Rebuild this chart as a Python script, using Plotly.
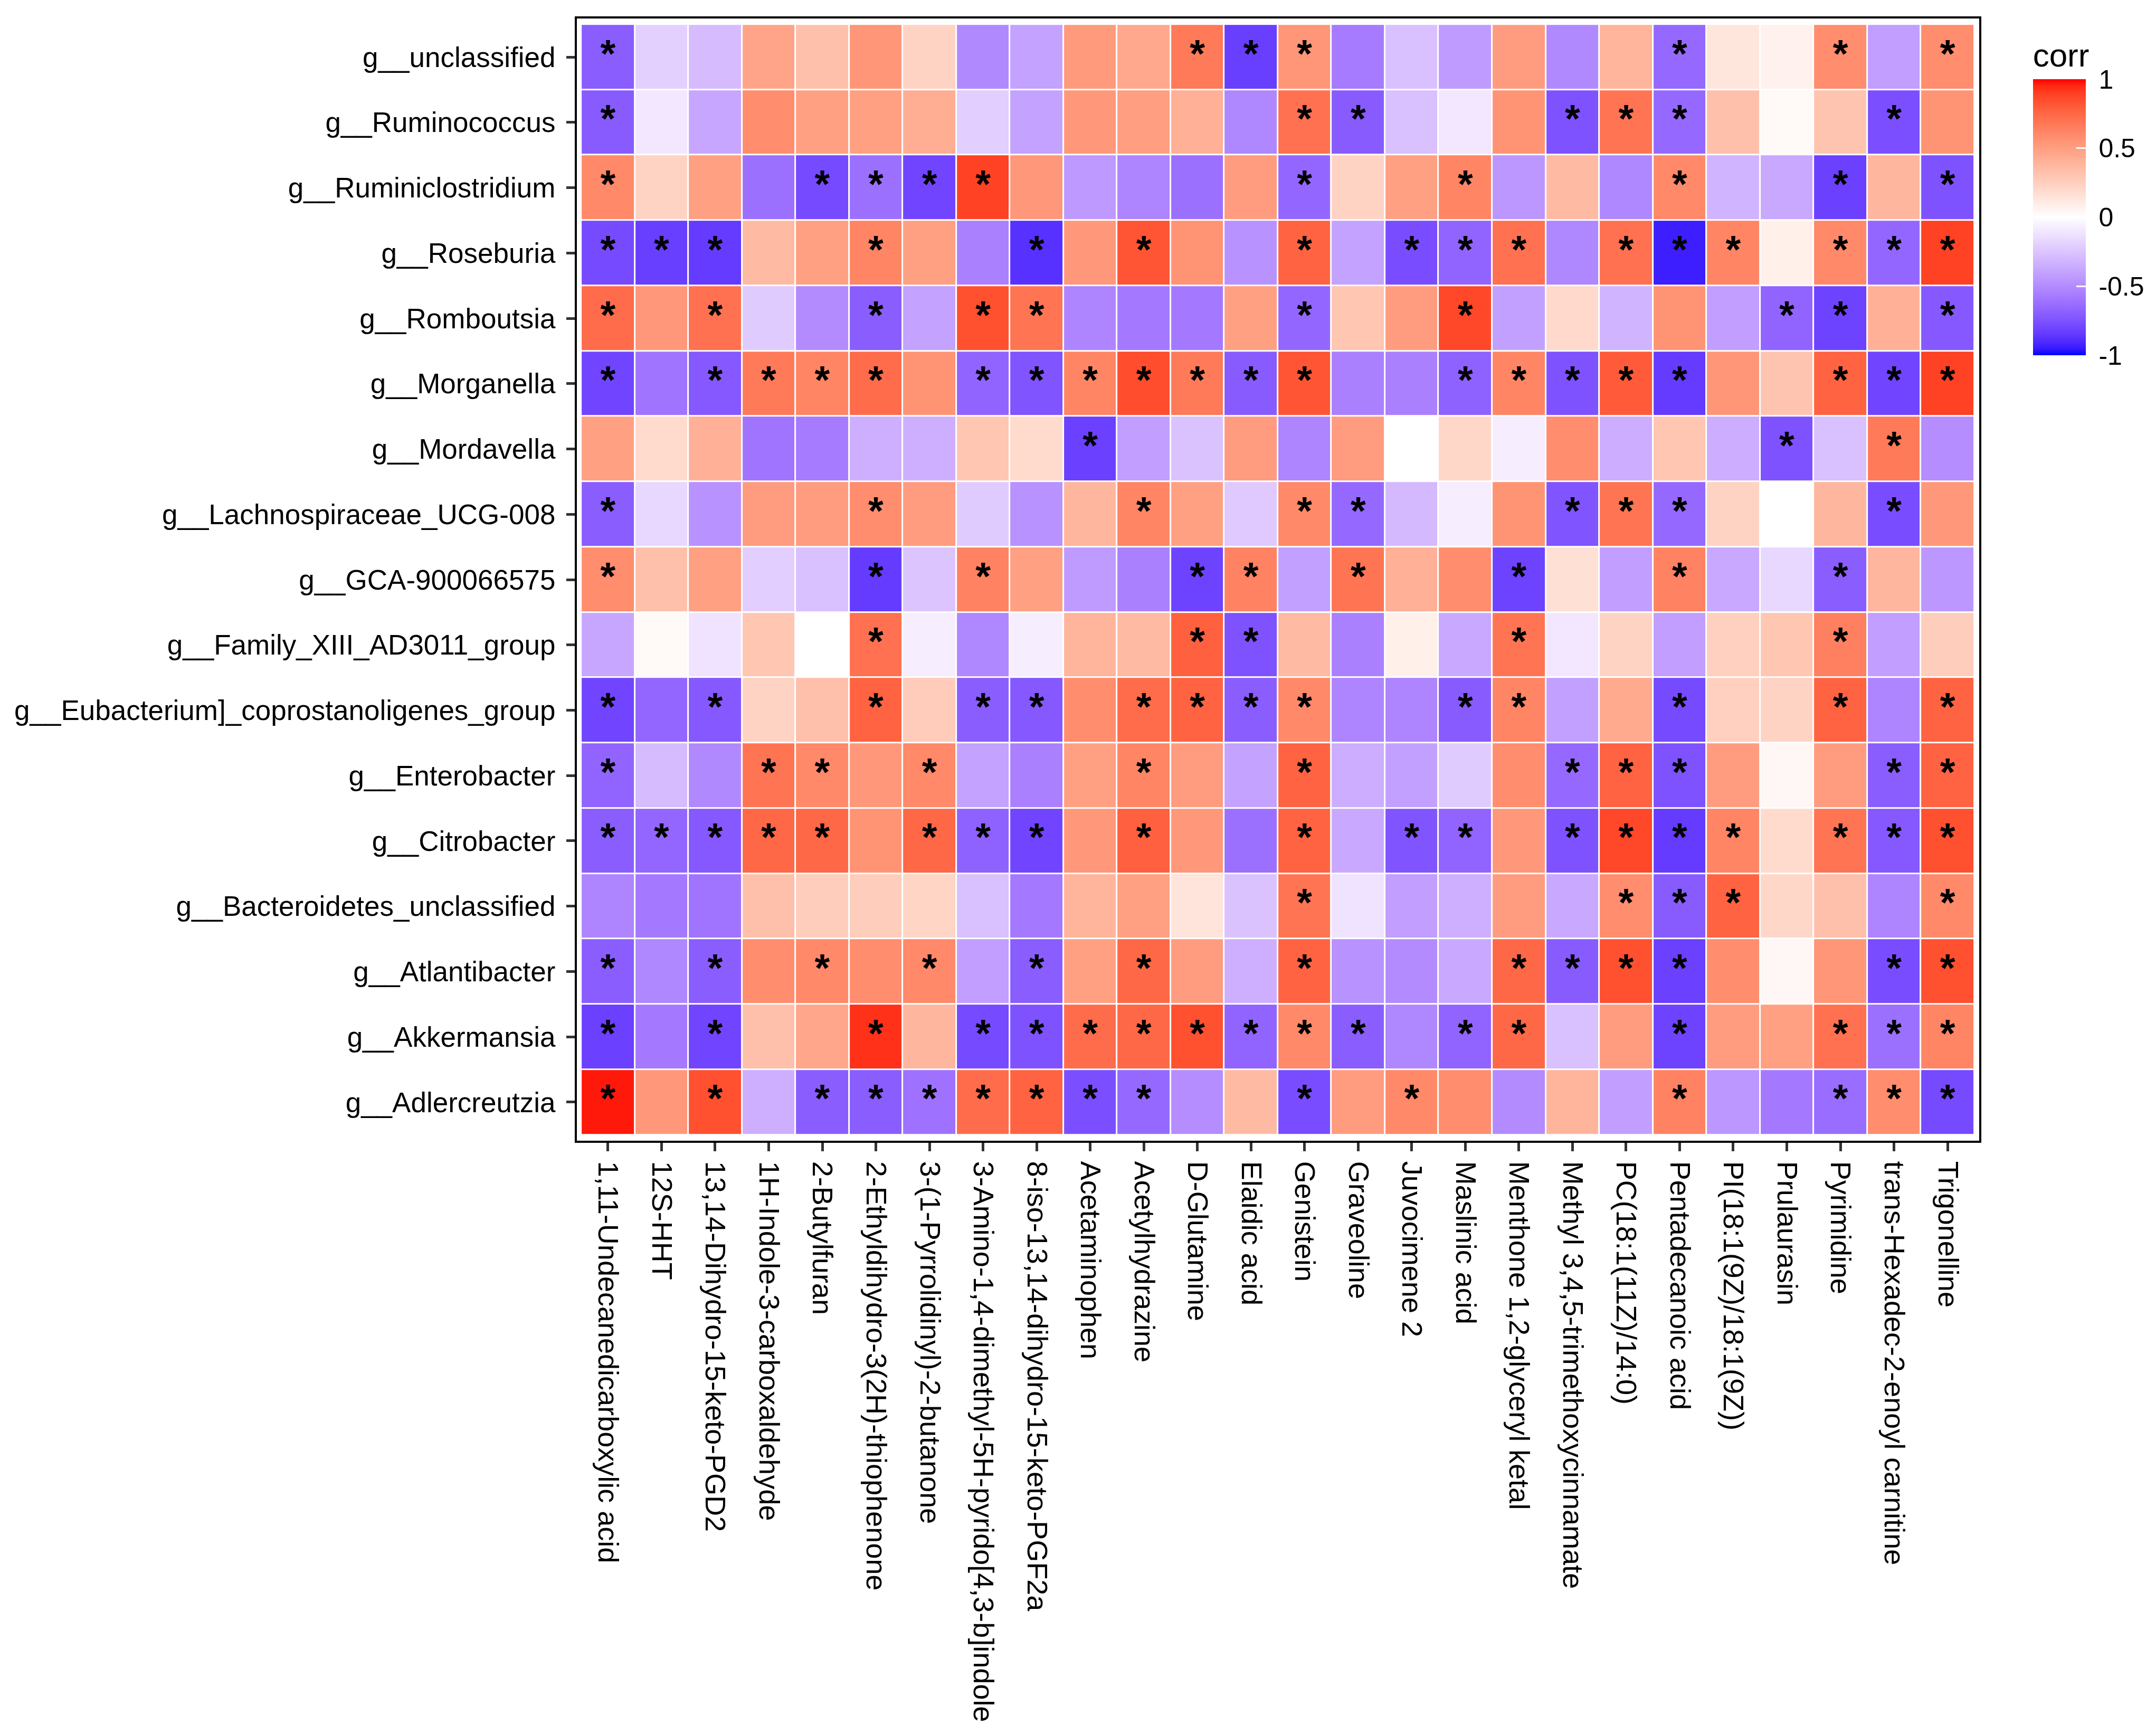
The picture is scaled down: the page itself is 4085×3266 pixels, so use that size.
import plotly.graph_objects as go

# ---------------- data ----------------
metabolites = [
    "1,11-Undecanedicarboxylic acid", "12S-HHT", "13,14-Dihydro-15-keto-PGD2",
    "1H-Indole-3-carboxaldehyde", "2-Butylfuran", "2-Ethyldihydro-3(2H)-thiophenone",
    "3-(1-Pyrrolidinyl)-2-butanone", "3-Amino-1,4-dimethyl-5H-pyrido[4,3-b]indole",
    "8-iso-13,14-dihydro-15-keto-PGF2a", "Acetaminophen", "Acetylhydrazine",
    "D-Glutamine", "Elaidic acid", "Genistein", "Graveoline", "Juvocimene 2",
    "Maslinic acid", "Menthone 1,2-glyceryl ketal", "Methyl 3,4,5-trimethoxycinnamate",
    "PC(18:1(11Z)/14:0)", "Pentadecanoic acid", "PI(18:1(9Z)/18:1(9Z))", "Prulaurasin",
    "Pyrimidine", "trans-Hexadec-2-enoyl carnitine", "Trigonelline",
]

genera = [
    "g__unclassified", "g__Ruminococcus", "g__Ruminiclostridium", "g__Roseburia",
    "g__Romboutsia", "g__Morganella", "g__Mordavella", "g__Lachnospiraceae_UCG-008",
    "g__GCA-900066575", "g__Family_XIII_AD3011_group",
    "g__Eubacterium]_coprostanoligenes_group", "g__Enterobacter", "g__Citrobacter",
    "g__Bacteroidetes_unclassified", "g__Atlantibacter", "g__Akkermansia",
    "g__Adlercreutzia",
]

corr_unclassified = [-0.7, -0.2, -0.29, 0.47, 0.33, 0.54, 0.23, -0.51, -0.4, 0.52, 0.45, 0.67, -0.83, 0.54, -0.57, -0.27, -0.43, 0.51, -0.51, 0.39, -0.65, 0.13, 0.07, 0.58, -0.42, 0.58]
corr_ruminococcus = [-0.71, -0.1, -0.38, 0.58, 0.49, 0.49, 0.42, -0.21, -0.4, 0.53, 0.5, 0.41, -0.52, 0.71, -0.71, -0.27, -0.1, 0.55, -0.75, 0.69, -0.65, 0.33, 0.03, 0.31, -0.76, 0.55]
corr_ruminiclostridium = [0.6, 0.23, 0.49, -0.62, -0.78, -0.62, -0.8, 0.89, 0.53, -0.44, -0.53, -0.62, 0.51, -0.66, 0.23, 0.49, 0.62, -0.45, 0.36, -0.52, 0.6, -0.32, -0.37, -0.82, 0.38, -0.75]
corr_roseburia = [-0.78, -0.83, -0.84, 0.36, 0.49, 0.62, 0.49, -0.55, -0.88, 0.53, 0.82, 0.55, -0.47, 0.77, -0.4, -0.77, -0.67, 0.71, -0.52, 0.71, -0.94, 0.62, 0.08, 0.6, -0.66, 0.89]
corr_romboutsia = [0.73, 0.53, 0.71, -0.22, -0.5, -0.7, -0.4, 0.84, 0.69, -0.53, -0.58, -0.58, 0.49, -0.66, 0.3, 0.51, 0.87, -0.41, 0.2, -0.32, 0.55, -0.42, -0.67, -0.81, 0.41, -0.72]
corr_morganella = [-0.8, -0.6, -0.72, 0.67, 0.62, 0.73, 0.55, -0.67, -0.74, 0.62, 0.85, 0.67, -0.71, 0.82, -0.55, -0.55, -0.68, 0.62, -0.75, 0.8, -0.84, 0.54, 0.31, 0.77, -0.8, 0.89]
corr_mordavella = [0.49, 0.19, 0.41, -0.6, -0.57, -0.34, -0.34, 0.3, 0.19, -0.82, -0.42, -0.26, 0.51, -0.53, 0.51, 0.0, 0.21, -0.07, 0.58, -0.35, 0.3, -0.35, -0.75, -0.27, 0.67, -0.49]
corr_lachnospiraceae = [-0.7, -0.17, -0.47, 0.51, 0.51, 0.58, 0.51, -0.22, -0.47, 0.38, 0.62, 0.49, -0.23, 0.6, -0.65, -0.3, -0.07, 0.55, -0.74, 0.69, -0.65, 0.23, 0.0, 0.38, -0.77, 0.53]
corr_gca = [0.58, 0.33, 0.49, -0.21, -0.27, -0.84, -0.25, 0.63, 0.49, -0.43, -0.55, -0.81, 0.63, -0.41, 0.69, 0.41, 0.58, -0.81, 0.16, -0.42, 0.63, -0.37, -0.17, -0.7, 0.38, -0.45]
corr_family_xiii = [-0.38, 0.03, -0.12, 0.3, 0.0, 0.71, -0.07, -0.52, -0.07, 0.39, 0.36, 0.78, -0.75, 0.36, -0.55, 0.08, -0.37, 0.69, -0.1, 0.23, -0.42, 0.25, 0.3, 0.64, -0.42, 0.26]
corr_eubacterium = [-0.8, -0.66, -0.72, 0.23, 0.33, 0.77, 0.27, -0.7, -0.72, 0.58, 0.73, 0.77, -0.7, 0.6, -0.53, -0.53, -0.71, 0.62, -0.41, 0.44, -0.78, 0.25, 0.23, 0.77, -0.53, 0.77]
corr_enterobacter = [-0.67, -0.29, -0.51, 0.69, 0.6, 0.53, 0.6, -0.4, -0.55, 0.49, 0.62, 0.51, -0.4, 0.77, -0.35, -0.41, -0.22, 0.58, -0.65, 0.77, -0.75, 0.51, 0.04, 0.51, -0.7, 0.77]
corr_citrobacter = [-0.7, -0.66, -0.72, 0.75, 0.75, 0.55, 0.75, -0.68, -0.8, 0.53, 0.78, 0.53, -0.62, 0.77, -0.37, -0.74, -0.67, 0.53, -0.75, 0.87, -0.84, 0.62, 0.19, 0.69, -0.72, 0.84]
corr_bacteroidetes = [-0.53, -0.58, -0.6, 0.33, 0.26, 0.26, 0.22, -0.27, -0.58, 0.39, 0.49, 0.14, -0.26, 0.69, -0.12, -0.42, -0.34, 0.51, -0.37, 0.58, -0.71, 0.77, 0.21, 0.33, -0.53, 0.6]
corr_atlantibacter = [-0.7, -0.52, -0.7, 0.58, 0.6, 0.58, 0.6, -0.42, -0.7, 0.49, 0.75, 0.51, -0.34, 0.77, -0.47, -0.5, -0.37, 0.75, -0.71, 0.84, -0.82, 0.58, 0.04, 0.54, -0.77, 0.84]
corr_akkermansia = [-0.82, -0.58, -0.8, 0.33, 0.46, 0.93, 0.38, -0.78, -0.75, 0.73, 0.75, 0.84, -0.67, 0.6, -0.7, -0.52, -0.67, 0.75, -0.27, 0.51, -0.81, 0.51, 0.49, 0.71, -0.62, 0.62]
corr_adlercreutzia = [0.97, 0.53, 0.84, -0.34, -0.7, -0.7, -0.61, 0.73, 0.77, -0.76, -0.65, -0.49, 0.36, -0.77, 0.51, 0.6, 0.58, -0.5, 0.39, -0.42, 0.63, -0.45, -0.58, -0.63, 0.58, -0.78]

# significant cells (column indices) per genus
sig_unclassified = [0, 11, 12, 13, 20, 23, 25]
sig_ruminococcus = [0, 13, 14, 18, 19, 20, 24]
sig_ruminiclostridium = [0, 4, 5, 6, 7, 13, 16, 20, 23, 25]
sig_roseburia = [0, 1, 2, 5, 8, 10, 13, 15, 16, 17, 19, 20, 21, 23, 24, 25]
sig_romboutsia = [0, 2, 5, 7, 8, 13, 16, 22, 23, 25]
sig_morganella = [0, 2, 3, 4, 5, 7, 8, 9, 10, 11, 12, 13, 16, 17, 18, 19, 20, 23, 24, 25]
sig_mordavella = [9, 22, 24]
sig_lachnospiraceae = [0, 5, 10, 13, 14, 18, 19, 20, 24]
sig_gca = [0, 5, 7, 11, 12, 14, 17, 20, 23]
sig_family_xiii = [5, 11, 12, 17, 23]
sig_eubacterium = [0, 2, 5, 7, 8, 10, 11, 12, 13, 16, 17, 20, 23, 25]
sig_enterobacter = [0, 3, 4, 6, 10, 13, 18, 19, 20, 24, 25]
sig_citrobacter = [0, 1, 2, 3, 4, 6, 7, 8, 10, 13, 15, 16, 18, 19, 20, 21, 23, 24, 25]
sig_bacteroidetes = [13, 19, 20, 21, 25]
sig_atlantibacter = [0, 2, 4, 6, 8, 10, 13, 17, 18, 19, 20, 24, 25]
sig_akkermansia = [0, 2, 5, 7, 8, 9, 10, 11, 12, 13, 14, 16, 17, 20, 23, 24, 25]
sig_adlercreutzia = [0, 2, 4, 5, 6, 7, 8, 9, 10, 13, 15, 20, 23, 24, 25]

legend_ticks = [-1, -0.5, 0, 0.5, 1]
legend_labels = ["-1", "-0.5", "0", "0.5", "1"]

corr_rows = [corr_unclassified, corr_ruminococcus, corr_ruminiclostridium, corr_roseburia,
             corr_romboutsia, corr_morganella, corr_mordavella, corr_lachnospiraceae,
             corr_gca, corr_family_xiii, corr_eubacterium, corr_enterobacter,
             corr_citrobacter, corr_bacteroidetes, corr_atlantibacter, corr_akkermansia,
             corr_adlercreutzia]
sig_rows = [sig_unclassified, sig_ruminococcus, sig_ruminiclostridium, sig_roseburia,
            sig_romboutsia, sig_morganella, sig_mordavella, sig_lachnospiraceae,
            sig_gca, sig_family_xiii, sig_eubacterium, sig_enterobacter,
            sig_citrobacter, sig_bacteroidetes, sig_atlantibacter, sig_akkermansia,
            sig_adlercreutzia]

# ---------------- colour scale (Lab interpolation blue-white-red) ----------------
def _srgb_to_lin(c):
    c = c / 255.0
    return c / 12.92 if c <= 0.04045 else ((c + 0.055) / 1.055) ** 2.4

def _lin_to_srgb(c):
    c = 12.92 * c if c <= 0.0031308 else 1.055 * c ** (1 / 2.4) - 0.055
    return max(0, min(255, round(c * 255)))

_WP = (0.95047, 1.0, 1.08883)

def rgb_to_lab(rgb):
    r, g, b = (_srgb_to_lin(v) for v in rgb)
    x = 0.4124 * r + 0.3576 * g + 0.1805 * b
    y = 0.2126 * r + 0.7152 * g + 0.0722 * b
    z = 0.0193 * r + 0.1192 * g + 0.9505 * b
    def f(t):
        return t ** (1 / 3) if t > 0.008856 else 7.787 * t + 16 / 116
    fx, fy, fz = f(x / _WP[0]), f(y / _WP[1]), f(z / _WP[2])
    return (116 * fy - 16, 500 * (fx - fy), 200 * (fy - fz))

def lab_to_rgb(lab):
    L, a, bb = lab
    fy = (L + 16) / 116
    fx = fy + a / 500
    fz = fy - bb / 200
    def finv(t):
        return t ** 3 if t ** 3 > 0.008856 else (t - 16 / 116) / 7.787
    x, y, z = finv(fx) * _WP[0], finv(fy) * _WP[1], finv(fz) * _WP[2]
    r = 3.2406 * x - 1.5372 * y - 0.4986 * z
    g = -0.9689 * x + 1.8758 * y + 0.0415 * z
    b = 0.0557 * x - 0.2040 * y + 1.0570 * z
    return tuple(_lin_to_srgb(max(0.0, v)) for v in (r, g, b))

lab_low = rgb_to_lab((0, 0, 255))
lab_mid = rgb_to_lab((255, 255, 255))
lab_high = rgb_to_lab((255, 0, 0))

colorscale = []
n_steps = 40
for i in range(n_steps + 1):
    v = -1 + 2 * i / n_steps
    if v < 0:
        t, end = -v, lab_low
    else:
        t, end = v, lab_high
    lab = tuple(m + (e - m) * t for m, e in zip(lab_mid, end))
    r, g, b = lab_to_rgb(lab)
    colorscale.append([i / n_steps, f"rgb({r},{g},{b})"])

# ---------------- figure ----------------
W, H = 4085, 3266
left, right, top, bottom = 1085, 334, 27, 1102
plot_w = W - left - right
plot_h = H - top - bottom

font_family = "Liberation Sans, Arial, sans-serif"

star_x, star_y = [], []
for gi, sig in enumerate(sig_rows):
    for ci in sig:
        star_x.append(metabolites[ci])
        star_y.append(genera[gi])

# colour bar: bar itself from y=150 to y=667 px, title above it
cb_title_space = 80
cb_top = 150 - cb_title_space
cb_len = 667 - cb_top
cb_center = cb_top + cb_len / 2

fig = go.Figure()
fig.add_trace(go.Heatmap(
    z=corr_rows, x=metabolites, y=genera,
    zmin=-1, zmax=1, colorscale=colorscale,
    xgap=3, ygap=3,
    colorbar=dict(
        title=dict(text="corr", side="top", font=dict(size=62, color="black", family=font_family)),
        x=1 + (3853 - (W - right)) / plot_w, xanchor="left", xref="paper",
        y=(H - bottom - cb_center) / plot_h, yanchor="middle", yref="paper",
        len=cb_len, lenmode="pixels", thickness=100, thicknessmode="pixels",
        outlinewidth=0, xpad=0, ypad=0,
        tickvals=legend_ticks, ticktext=["\u00a0" + s for s in legend_labels],
        ticks="inside", ticklen=18, tickwidth=3, tickcolor="white",
        tickfont=dict(size=50, color="black", family=font_family),
    ),
    hoverinfo="skip",
))
fig.add_trace(go.Scatter(
    x=star_x, y=star_y, mode="text", text=["*"] * len(star_x),
    textposition="middle center",
    textfont=dict(size=74, color="black", family=font_family, weight="bold"),
    hoverinfo="skip", showlegend=False,
))

axis_common = dict(
    showgrid=False, zeroline=False,
    showline=True, linecolor="black", linewidth=4, mirror=True,
    ticks="outside", ticklen=16, tickwidth=5, tickcolor="#333333",
)

fig.update_layout(
    width=W, height=H,
    margin=dict(l=left, r=right, t=top, b=bottom, pad=0),
    paper_bgcolor="white", plot_bgcolor="white",
    font=dict(family=font_family, color="black"),
    xaxis=dict(type="category", categoryorder="array", categoryarray=metabolites,
               range=[-0.58, len(metabolites) - 0.41], tickangle=90,
               ticklabelstandoff=8,
               tickfont=dict(size=54, color="black", family=font_family),
               **axis_common),
    yaxis=dict(type="category", categoryorder="array", categoryarray=genera,
               range=[len(genera) - 0.41, -0.59],
               ticklabelstandoff=10,
               tickfont=dict(size=53, color="black", family=font_family),
               **axis_common),
    showlegend=False,
)

fig.write_html("out.html")
